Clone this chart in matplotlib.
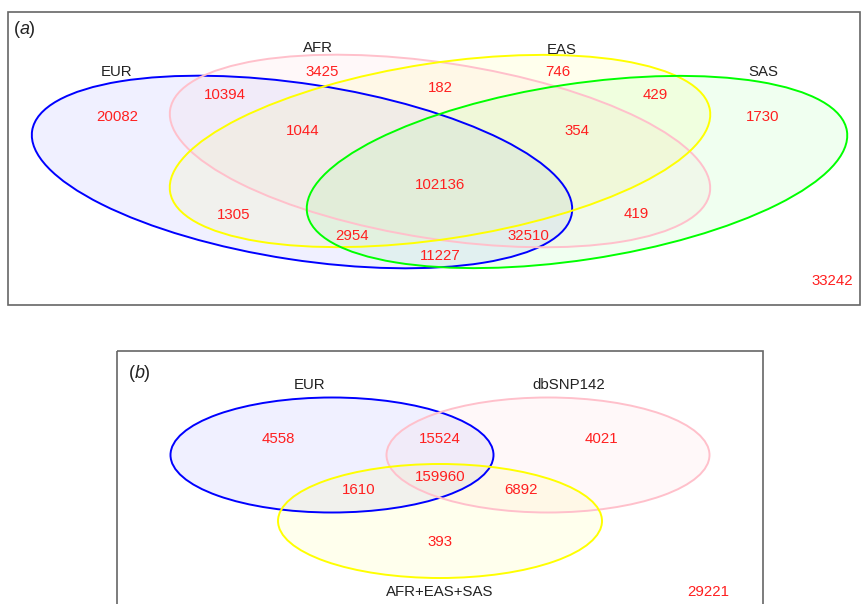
import matplotlib.pyplot as plt
from matplotlib.patches import Ellipse, Rectangle

plt.rcParams['font.family'] = ['Liberation Sans', 'DejaVu Sans']

# panel (a): four populations
a_sets = ['EUR', 'AFR', 'EAS', 'SAS']
a_counts = [20082, 10394, 3425, 1044, 1305, 2954, 102136, 11227,
            182, 746, 429, 354, 32510, 419, 1730, 33242]

# panel (b): EUR vs dbSNP142 vs the rest
b_sets = ['EUR', 'dbSNP142', 'AFR+EAS+SAS']
b_counts = [4558, 15524, 4021, 1610, 159960, 6892, 393, 29221]

# layout (pixel coords)
a_ell = [((302, 172), 546, 176, 8.7), ((440, 151), 546, 176, 8.7),
         ((440, 151), 546, 176, -8.6), ((577, 172), 546, 176, -8.6)]
a_lab = [(117, 72), (318, 48), (562, 50), (763, 72)]
a_num = [(117, 117), (225, 95), (322, 72), (303, 131), (234, 215), (352, 236),
         (440, 185), (440, 256), (440, 88), (558, 72), (655, 95), (577, 131),
         (528, 236), (636, 214), (763, 117), (832, 281)]

b_ell = [((332, 455), 323, 115, 0), ((548, 455), 323, 115, 0),
         ((440, 521), 324, 114, 0)]
b_lab = [(310, 385), (569, 385), (440, 592)]
b_num = [(278, 439), (440, 439), (601, 439), (359, 490), (440, 477),
         (521, 490), (440, 542), (708, 592)]

edge = ['#0000ff', '#ffc0cb', '#ffff00', '#00ff00']
fill_alpha = [0.06, 0.10, 0.07, 0.06]

fig = plt.figure(figsize=(8.61, 6.04), dpi=100)
ax = fig.add_axes([0, 0, 1, 1])
ax.set_xlim(0, 861)
ax.set_ylim(604, 0)
ax.axis('off')

# frames
ax.add_patch(Rectangle((8, 12), 852, 293, fill=False, ec='#666666', lw=1.2))
ax.add_patch(Rectangle((117, 351), 646, 270, fill=False, ec='#666666', lw=1.2))

# panel tags, italic letter between upright parentheses
def tag(x, y, letter):
    ax.text(x, y, '(', fontsize=13, ha='left', va='center', color='#222222')
    ax.text(x + 6, y, letter, fontsize=13, ha='left', va='center', style='italic', color='#222222')
    ax.text(x + 15, y, ')', fontsize=13, ha='left', va='center', color='#222222')

tag(14, 29, 'a')
tag(129, 373, 'b')

for (c, w, h, ang), ec, al in zip(a_ell, edge, fill_alpha):
    ax.add_patch(Ellipse(c, w, h, angle=ang, fc=ec, alpha=al, ec='none'))
for (c, w, h, ang), ec in zip(a_ell, edge):
    ax.add_patch(Ellipse(c, w, h, angle=ang, fill=False, ec=ec, lw=1.4))

for (c, w, h, ang), ec, al in zip(b_ell, edge, fill_alpha):
    ax.add_patch(Ellipse(c, w, h, angle=ang, fc=ec, alpha=al, ec='none'))
for (c, w, h, ang), ec in zip(b_ell, edge):
    ax.add_patch(Ellipse(c, w, h, angle=ang, fill=False, ec=ec, lw=1.4))

for name, (x, y) in zip(a_sets + b_sets, a_lab + b_lab):
    ax.text(x, y, name, fontsize=10.8, ha='center', va='center', color='#222222')

for n, (x, y) in zip(a_counts + b_counts, a_num + b_num):
    ax.text(x, y, str(n), fontsize=10.8, ha='center', va='center', color='#ff2020')

fig.savefig('out.png', dpi=100)
